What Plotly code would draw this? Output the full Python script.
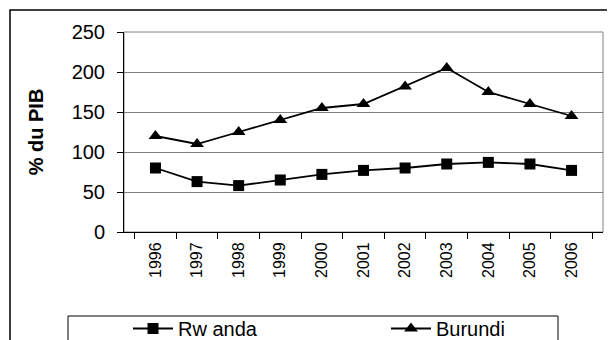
import plotly.graph_objects as go

years = ["1996", "1997", "1998", "1999", "2000", "2001", "2002", "2003", "2004", "2005", "2006"]
rwanda = [80, 63, 58, 65, 72, 77, 80, 85, 87, 85, 77]
burundi = [120, 110, 125, 140, 155, 160, 182, 205, 175, 160, 145]

# page has an 8px body margin; figure coords = page coords - 8
OFF = 8
W, H = 615 - OFF, 340 - OFF
L, R, T, B = 124 - OFF, W - (603 - OFF), 32 - OFF, H - (232 - OFF)
pw, ph = W - L - R, H - T - B

def px(x):
    return (x - OFF - L) / pw

def py(y):
    return (H - B - (y - OFF)) / ph

fig = go.Figure()
fig.add_trace(go.Scatter(x=years, y=rwanda, name="Rw anda", mode="lines+markers",
                         line=dict(color="black", width=1.8),
                         marker=dict(symbol="square", size=11, color="black"),
                         legend="legend"))
fig.add_trace(go.Scatter(x=years, y=burundi, name="Burundi", mode="lines+markers",
                         line=dict(color="black", width=1.8),
                         marker=dict(symbol="triangle-up", size=12, color="black"),
                         legend="legend2"))

shapes = [
    dict(type="rect", xref="paper", yref="paper", x0=px(10), x1=px(640), y0=py(380), y1=py(10),
         line=dict(color="black", width=1.5), layer="below"),
    dict(type="rect", xref="paper", yref="paper", x0=0, x1=1, y0=0, y1=1,
         line=dict(color="#808080", width=1), layer="below"),
    dict(type="rect", xref="paper", yref="paper", x0=px(68), x1=px(558), y0=py(380), y1=py(316),
         line=dict(color="black", width=1), layer="below"),
]

leg_common = dict(orientation="h", xanchor="left", yanchor="top",
                  font=dict(size=20), bgcolor="rgba(0,0,0,0)", borderwidth=0,
                  itemwidth=40)

fig.update_layout(
    width=W, height=H,
    margin=dict(l=L, r=R, t=T, b=B, autoexpand=False),
    paper_bgcolor="white", plot_bgcolor="white",
    font=dict(family="Liberation Sans, Arial, sans-serif", color="black"),
    showlegend=True,
    legend=dict(x=px(128), y=py(309), **leg_common),
    legend2=dict(x=px(386), y=py(309), **leg_common),
    shapes=shapes,
    xaxis=dict(type="category", tickson="boundaries", ticks="outside", ticklen=6,
               tickcolor="black", showline=True, linecolor="black", linewidth=1,
               showgrid=False, tickangle=-90, ticklabelstandoff=3,
               tickfont=dict(size=16)),
    yaxis=dict(range=[0, 250], dtick=50, ticks="outside", ticklen=6, tickcolor="black",
               showline=True, linecolor="black", linewidth=1,
               showgrid=True, gridcolor="#808080", gridwidth=1,
               tickfont=dict(size=20), zeroline=False, ticklabelstandoff=8,
               title=dict(text="<b>% du PIB</b>", font=dict(size=20), standoff=22)),
)

fig.write_html("out.html")
